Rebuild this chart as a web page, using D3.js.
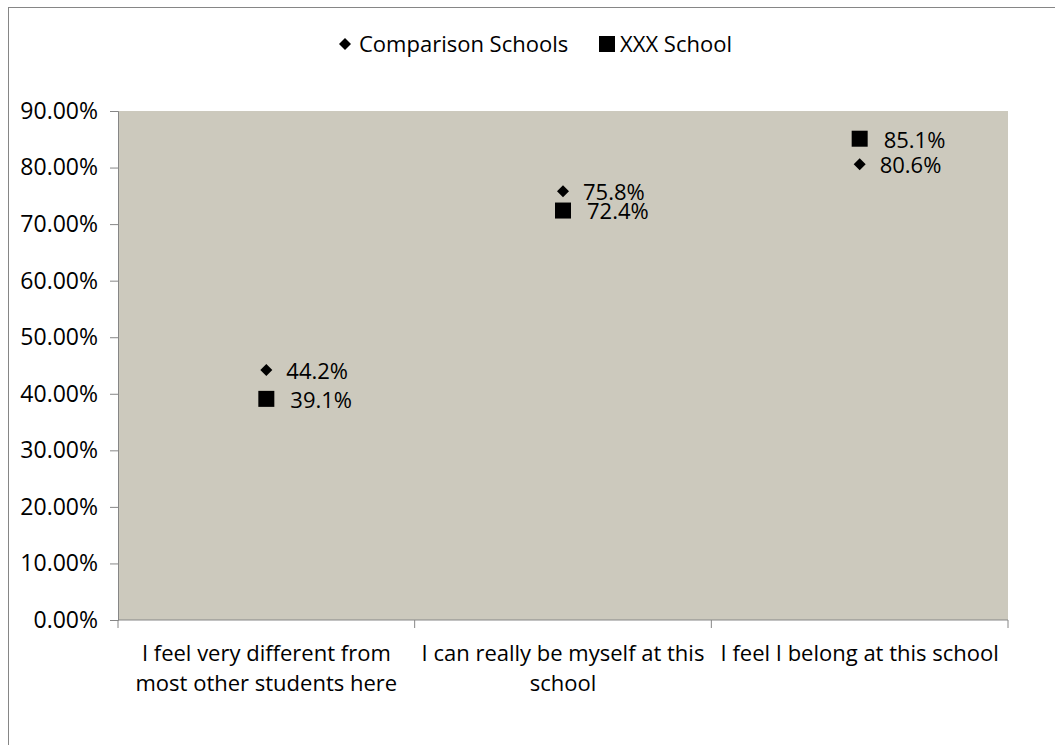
<!DOCTYPE html>
<html><head><meta charset="utf-8">
<script src="https://cdnjs.cloudflare.com/ajax/libs/d3/7.8.5/d3.min.js"></script>
<style>body{margin:0;background:#fff}svg{display:block}text{font-family:"Open Sans",Lato,sans-serif;fill:#000}</style>
</head><body><svg id="c" width="1055" height="745"></svg>
<script>
const categories = [["I feel very different from","most other students here"],["I can really be myself at this","school"],["I feel I belong at this school"]];
const categoryKeys = ["c1","c2","c3"];
const comparisonValues = [44.2, 75.8, 80.6];
const schoolValues = [39.1, 72.4, 85.1];
const seriesNames = ["Comparison Schools","XXX School"];
const yTicks = [0,10,20,30,40,50,60,70,80,90];

const FS = 22;
const svg = d3.select("#c");
const L=118, R=1008, T=111, B=620;
svg.append("rect").attr("x",8.5).attr("y",7.5).attr("width",1060).attr("height",760).attr("fill","#fff").attr("stroke","#868686");
svg.append("rect").attr("x",L).attr("y",T).attr("width",R-L).attr("height",B-T).attr("fill","#ccc9bd");

const x = d3.scaleBand().domain(categoryKeys).range([L,R]);
const y = d3.scaleLinear().domain([0,90]).range([B,T]);

const ya = svg.append("g").attr("transform",`translate(${L},0)`).call(d3.axisLeft(y).tickValues(yTicks).tickSize(8).tickPadding(12).tickFormat(d=>d.toFixed(2)+"%"));
ya.select(".domain").attr("stroke","#868686");
ya.selectAll(".tick line").attr("stroke","#868686");
ya.selectAll(".tick text").attr("font-size",23).attr("font-family","Open Sans");

const xa = svg.append("g").attr("transform",`translate(0,${B})`);
xa.append("line").attr("x1",L).attr("x2",R).attr("y1",0).attr("y2",0).attr("stroke","#868686");
const bounds = categoryKeys.map(k=>x(k)).concat([R]);
xa.selectAll("line.t").data(bounds).join("line").attr("class","t").attr("x1",d=>d).attr("x2",d=>d).attr("y1",0).attr("y2",8).attr("stroke","#868686");
categoryKeys.forEach((k,i)=>{
  const t = xa.append("text").attr("text-anchor","middle").attr("font-size",FS).attr("x",x(k)+x.bandwidth()/2);
  categories[i].forEach((ln,j)=>t.append("tspan").attr("x",x(k)+x.bandwidth()/2).attr("y",41+j*30).text(ln));
});

const diamond = "M0,-6L6,0L0,6L-6,0Z";
const g = svg.append("g");
categoryKeys.forEach((k,i)=>{
  const cx = x(k)+x.bandwidth()/2;
  const yc = y(comparisonValues[i]), ys = y(schoolValues[i]);
  g.append("path").attr("d",diamond).attr("transform",`translate(${cx},${yc})`).attr("fill","#000");
  g.append("rect").attr("x",cx-8).attr("y",ys-8).attr("width",16).attr("height",16).attr("fill","#000");
  g.append("text").attr("x",cx+20).attr("y",yc).attr("dy","0.4em").attr("font-size",FS).text(comparisonValues[i].toFixed(1)+"%");
  g.append("text").attr("x",cx+24).attr("y",ys).attr("dy","0.4em").attr("font-size",FS).text(schoolValues[i].toFixed(1)+"%");
});

// legend
const lg = svg.append("g");
lg.append("path").attr("d",diamond).attr("transform","translate(345,44)").attr("fill","#000");
lg.append("text").attr("x",359).attr("y",44).attr("dy","0.35em").attr("font-size",FS).text(seriesNames[0]);
lg.append("rect").attr("x",599).attr("y",36).attr("width",16).attr("height",16).attr("fill","#000");
lg.append("text").attr("x",620).attr("y",44).attr("dy","0.35em").attr("font-size",FS).text(seriesNames[1]);
</script></body></html>
